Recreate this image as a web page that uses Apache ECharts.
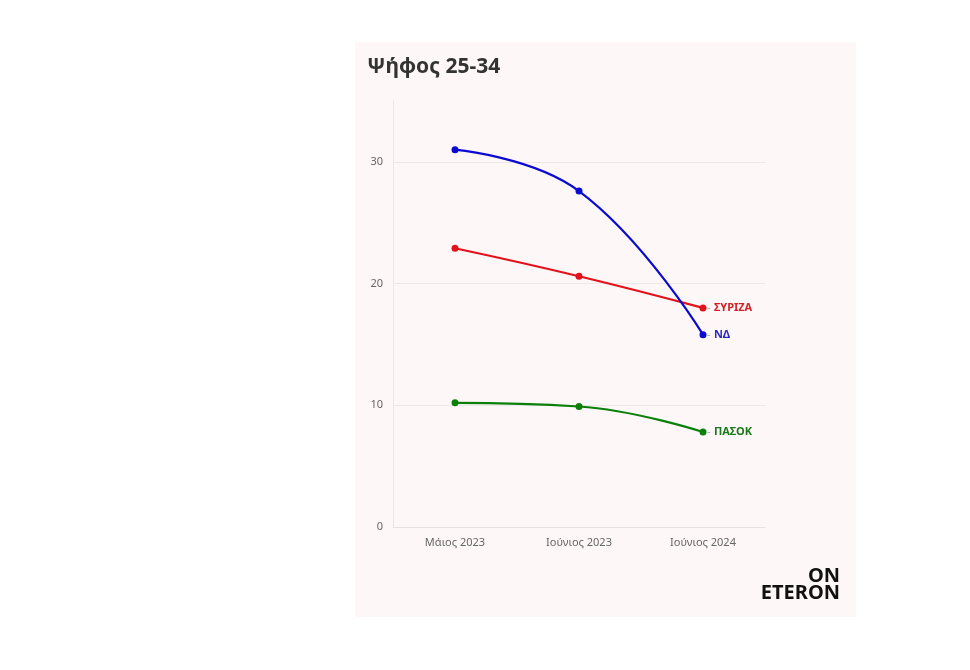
<!DOCTYPE html>
<html><head><meta charset="utf-8">
<script src="https://cdn.jsdelivr.net/npm/echarts@6/dist/echarts.min.js"></script>
<style>html,body{margin:0;padding:0;background:#fff}#c{width:970px;height:670px}</style>
</head><body><div id="c"></div>
<script>
const categories = ['Μάιος 2023', 'Ιούνιος 2023', 'Ιούνιος 2024'];
const nd = [31.0, 27.6, 15.8];
const syriza = [22.9, 20.6, 18.0];
const pasok = [10.2, 9.9, 7.8];
const seriesNames = ['ΝΔ', 'ΣΥΡΙΖΑ', 'ΠΑΣΟΚ'];
const colors = ['#0a0ad0', '#e3111b', '#0a800a'];
const labelColors = ['#2a2ac0', '#d42026', '#1a7a1a'];
const yTicks = [0, 10, 20, 30];

const chart = echarts.init(document.getElementById('c'));
const font = '"Noto Sans", "Open Sans", sans-serif';
function mk(name, data, i) {
  return {
    name, type: 'line', data, smooth: 0.45,
    symbol: 'circle', symbolSize: 7,
    lineStyle: { color: colors[i], width: 2.2 },
    itemStyle: { color: colors[i] },
    endLabel: {
      show: true, distance: 4,
      formatter: '{d|-} {n|' + name + '}',
      rich: {
        d: { color: '#aaa', fontSize: 11, fontFamily: font },
        n: { color: labelColors[i], fontSize: 11, fontWeight: 'bold', fontFamily: font }
      }
    },
    z: 3 - i
  };
}
chart.setOption({
  backgroundColor: '#fff',
  animation: false,
  graphic: [
    { type: 'rect', shape: { x: 355, y: 42, width: 501, height: 575 }, style: { fill: '#fdf8f7' }, z: -10 },
    { type: 'text', x: 367, y: 57, style: { text: 'Ψήφος 25-34', fill: '#333', font: 'bold 21px ' + font, verticalAlign: 'top' } },
    { type: 'text', x: 840, y: 566, style: { text: 'ON', fill: '#111', font: 'bold 20px ' + font, align: 'right', verticalAlign: 'top' } },
    { type: 'text', x: 840, y: 583, style: { text: 'ETERON', fill: '#111', font: 'bold 20px ' + font, align: 'right', verticalAlign: 'top' } }
  ],
  grid: { left: 393, right: 205, top: 101, bottom: 143 },
  xAxis: {
    type: 'category', data: categories, boundaryGap: true,
    axisLine: { lineStyle: { color: '#e6e2e2' } },
    axisTick: { alignWithLabel: true, length: 5, lineStyle: { color: '#e6e2e2' } },
    axisLabel: { color: '#666', fontSize: 11, fontFamily: font, margin: 10 }
  },
  yAxis: {
    type: 'value', min: 0, max: 35, interval: 10,
    axisLine: { show: true, lineStyle: { color: '#ece8e8' } },
    axisTick: { show: false },
    axisLabel: { color: '#666', fontSize: 11, fontFamily: font, margin: 10, showMaxLabel: false,
      formatter: v => yTicks.includes(v) ? String(v) : '' },
    splitLine: { showMaxLine: false, lineStyle: { color: '#ece8e8' } }
  },
  series: [mk(seriesNames[0], nd, 0), mk(seriesNames[1], syriza, 1), mk(seriesNames[2], pasok, 2)]
});
</script></body></html>
